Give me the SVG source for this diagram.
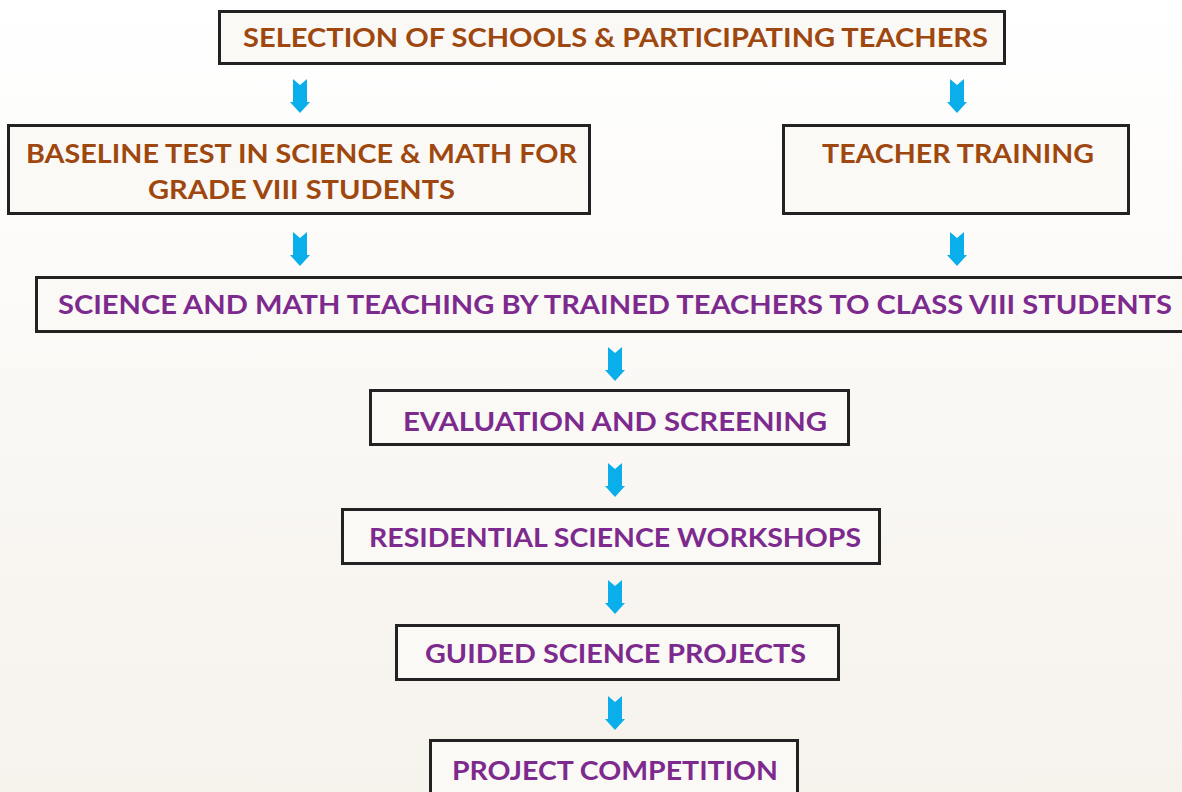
<svg xmlns="http://www.w3.org/2000/svg" width="1182" height="792" viewBox="0 0 1182 792">
<defs>
<linearGradient id="bg" x1="0" y1="0" x2="0" y2="1">
<stop offset="0" stop-color="#ffffff"/>
<stop offset="1" stop-color="#f6f2ec"/>
</linearGradient>
<path id="arr" d="M-7,0 L0,6 L7,0 L7,23 L10,23 L0,34 L-10,23 L-7,23 Z" fill="#0aaeea"/>
<style>
.box{fill:#fbf9f6;stroke:#222;stroke-width:3}
.t{font-family:Lato,"Open Sans","Noto Sans",sans-serif;font-weight:bold;font-size:27px;text-anchor:middle}
.br{fill:#9e470f}
.pu{fill:#7d2a8e}
</style>
</defs>
<rect width="1182" height="792" fill="url(#bg)"/>
<g id="connectors">
<use href="#arr" x="300" y="79"/>
<use href="#arr" x="957" y="79"/>
<use href="#arr" x="300" y="232"/>
<use href="#arr" x="957" y="232"/>
<use href="#arr" x="615" y="347"/>
<use href="#arr" x="615" y="463"/>
<use href="#arr" x="615" y="580"/>
<use href="#arr" x="615" y="696"/>
</g>
<g id="n1"><rect class="box" x="219.5" y="11.5" width="785" height="52"/>
<text class="t br" x="615.5" y="47" textLength="745" lengthAdjust="spacingAndGlyphs">SELECTION OF SCHOOLS &amp; PARTICIPATING TEACHERS</text></g>
<g id="n2"><rect class="box" x="8.5" y="125.5" width="581" height="88"/>
<text class="t br" x="301.5" y="163" textLength="551" lengthAdjust="spacingAndGlyphs">BASELINE TEST IN SCIENCE &amp; MATH FOR</text>
<text class="t br" x="301.5" y="199" textLength="307" lengthAdjust="spacingAndGlyphs">GRADE VIII STUDENTS</text></g>
<g id="n3"><rect class="box" x="783.5" y="125.5" width="345" height="88"/>
<text class="t br" x="958" y="163" textLength="272" lengthAdjust="spacingAndGlyphs">TEACHER TRAINING</text></g>
<g id="n4"><rect class="box" x="36.5" y="277.5" width="1150" height="54"/>
<text class="t pu" x="615" y="314" textLength="1114" lengthAdjust="spacingAndGlyphs">SCIENCE AND MATH TEACHING BY TRAINED TEACHERS TO CLASS VIII STUDENTS</text></g>
<g id="n5"><rect class="box" x="370.5" y="390.5" width="478" height="54"/>
<text class="t pu" x="615" y="431" textLength="424" lengthAdjust="spacingAndGlyphs">EVALUATION AND SCREENING</text></g>
<g id="n6"><rect class="box" x="342.5" y="509.5" width="537" height="54"/>
<text class="t pu" x="615" y="547" textLength="492" lengthAdjust="spacingAndGlyphs">RESIDENTIAL SCIENCE WORKSHOPS</text></g>
<g id="n7"><rect class="box" x="396.5" y="625.5" width="442" height="54"/>
<text class="t pu" x="615.5" y="663" textLength="381" lengthAdjust="spacingAndGlyphs">GUIDED SCIENCE PROJECTS</text></g>
<g id="n8"><rect class="box" x="430.5" y="740.5" width="367" height="60"/>
<text class="t pu" x="615" y="780" textLength="326" lengthAdjust="spacingAndGlyphs">PROJECT COMPETITION</text></g>
</svg>
